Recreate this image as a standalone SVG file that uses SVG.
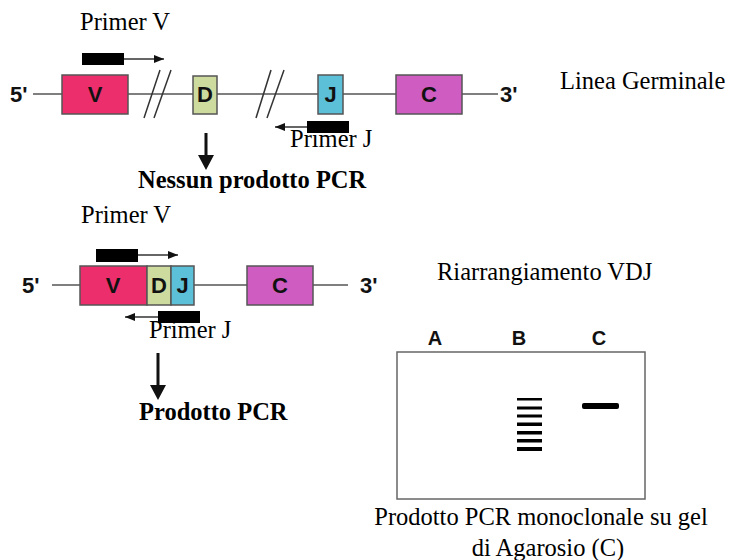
<svg xmlns="http://www.w3.org/2000/svg" width="729" height="560" viewBox="0 0 729 560">
<defs>
<style>
.t{font-family:"Liberation Serif","Times New Roman",serif;font-size:24.5px;fill:#000}
.tb{font-family:"Liberation Serif","Times New Roman",serif;font-size:24.5px;font-weight:bold;fill:#000}
.a{font-family:"Liberation Sans",Arial,sans-serif;font-size:22px;font-weight:bold;fill:#111}
.g{font-family:"Liberation Sans",Arial,sans-serif;font-size:20px;font-weight:bold;fill:#111;text-anchor:middle}
.m{text-anchor:middle}
.box{stroke:#555;stroke-width:1.5}
.ln{stroke:#555;stroke-width:1.5;fill:none}
.sl{stroke:#333;stroke-width:1.5;fill:none}
.pa{stroke:#333;stroke-width:1.5;fill:none}
.bar{fill:#000}
.band{fill:#000}
</style>
<marker id="ah" viewBox="0 0 10 8" refX="10" refY="4" markerWidth="10" markerHeight="8" markerUnits="userSpaceOnUse" orient="auto">
<path d="M0,0 L10,4 L0,8 Z" fill="#111"/>
</marker>
</defs>

<g id="connectors">
<!-- germline DNA line -->
<line class="ln" x1="33" y1="94" x2="498" y2="94"/>
<line class="sl" x1="144" y1="118" x2="160" y2="70"/>
<line class="sl" x1="154" y1="118" x2="171" y2="70"/>
<line class="sl" x1="256" y1="118" x2="271" y2="70"/>
<line class="sl" x1="267" y1="118" x2="284" y2="70"/>
<!-- rearranged DNA line -->
<line class="ln" x1="52" y1="285" x2="80" y2="285"/>
<line class="ln" x1="194" y1="285" x2="247" y2="285"/>
<line class="ln" x1="313" y1="285" x2="348" y2="285"/>
<!-- primer arrows -->
<line class="pa" x1="124" y1="59" x2="164" y2="59" marker-end="url(#ah)"/>
<line class="pa" x1="307" y1="127" x2="275" y2="127" marker-end="url(#ah)"/>
<line class="pa" x1="138" y1="255" x2="178" y2="255" marker-end="url(#ah)"/>
<line class="pa" x1="158" y1="317" x2="125" y2="317" marker-end="url(#ah)"/>
<!-- result arrows -->
<path d="M204.5,133 H207.5 V155 H214 L206,170 L198,155 H204.5 Z" fill="#111"/>
<path d="M156.5,353 H159.5 V385 H166 L158,400 L150,385 H156.5 Z" fill="#111"/>
</g>

<g id="germline">
<text class="a" x="10" y="102">5'</text>
<g id="gV"><rect class="box" x="62" y="75" width="66" height="39" fill="#ec2f6c"/><text class="a m" x="95" y="102">V</text></g>
<g id="gD"><rect class="box" x="193" y="76" width="24" height="38" fill="#cddb9f"/><text class="a m" x="205" y="102">D</text></g>
<g id="gJ"><rect class="box" x="318" y="75" width="25" height="39" fill="#5cc0d8"/><text class="a m" x="330.5" y="102">J</text></g>
<g id="gC"><rect class="box" x="396" y="75" width="66" height="39" fill="#cf5cc0"/><text class="a m" x="429" y="102">C</text></g>
<text class="a" x="500" y="102">3'</text>
<text class="t" x="560" y="89">Linea Germinale</text>
</g>

<g id="primerV1">
<text class="t" x="80" y="30">Primer V</text>
<rect class="bar" x="82" y="53" width="42" height="12"/>
</g>
<g id="primerJ1">
<rect class="bar" x="307" y="121" width="42" height="12"/>
<text class="t" x="290" y="147">Primer J</text>
</g>
<g id="noProduct">
<text class="tb" x="138" y="188">Nessun prodotto PCR</text>
</g>

<g id="rearranged">
<text class="a" x="22" y="293">5'</text>
<g id="rV"><rect class="box" x="80" y="266" width="67" height="39" fill="#ec2f6c"/><text class="a m" x="113" y="293">V</text></g>
<g id="rD"><rect class="box" x="147" y="266" width="24" height="39" fill="#cddb9f"/><text class="a m" x="159" y="293">D</text></g>
<g id="rJ"><rect class="box" x="171" y="266" width="23" height="39" fill="#5cc0d8"/><text class="a m" x="182.5" y="293">J</text></g>
<g id="rC"><rect class="box" x="247" y="266" width="66" height="39" fill="#cf5cc0"/><text class="a m" x="280" y="293">C</text></g>
<text class="a" x="360" y="293">3'</text>
<text class="t" x="437" y="280">Riarrangiamento VDJ</text>
</g>

<g id="primerV2">
<text class="t" x="81" y="223">Primer V</text>
<rect class="bar" x="96" y="249" width="42" height="13"/>
</g>
<g id="primerJ2">
<rect class="bar" x="158" y="311" width="42" height="12"/>
<text class="t" x="149" y="338">Primer J</text>
</g>
<g id="product">
<text class="tb" x="139" y="420">Prodotto PCR</text>
</g>

<g id="gel">
<text class="g" x="435" y="345">A</text>
<text class="g" x="519" y="345">B</text>
<text class="g" x="599" y="345">C</text>
<rect x="397" y="352" width="248" height="147" fill="#fff" stroke="#666" stroke-width="1.5"/>
<rect class="band" x="517" y="398" width="25" height="2.5"/>
<rect class="band" x="517" y="406.5" width="25" height="3"/>
<rect class="band" x="517" y="414.5" width="25" height="3"/>
<rect class="band" x="517" y="422.5" width="25" height="3.5"/>
<rect class="band" x="517" y="431" width="25" height="3.5"/>
<rect class="band" x="517" y="439" width="25" height="3.5"/>
<rect class="band" x="517" y="447" width="25" height="4"/>
<rect class="band" x="582" y="403" width="37" height="6" rx="2"/>
<text class="t m" x="541" y="525">Prodotto PCR monoclonale su gel</text>
<text class="t m" x="548" y="556">di Agarosio (C)</text>
</g>
</svg>
